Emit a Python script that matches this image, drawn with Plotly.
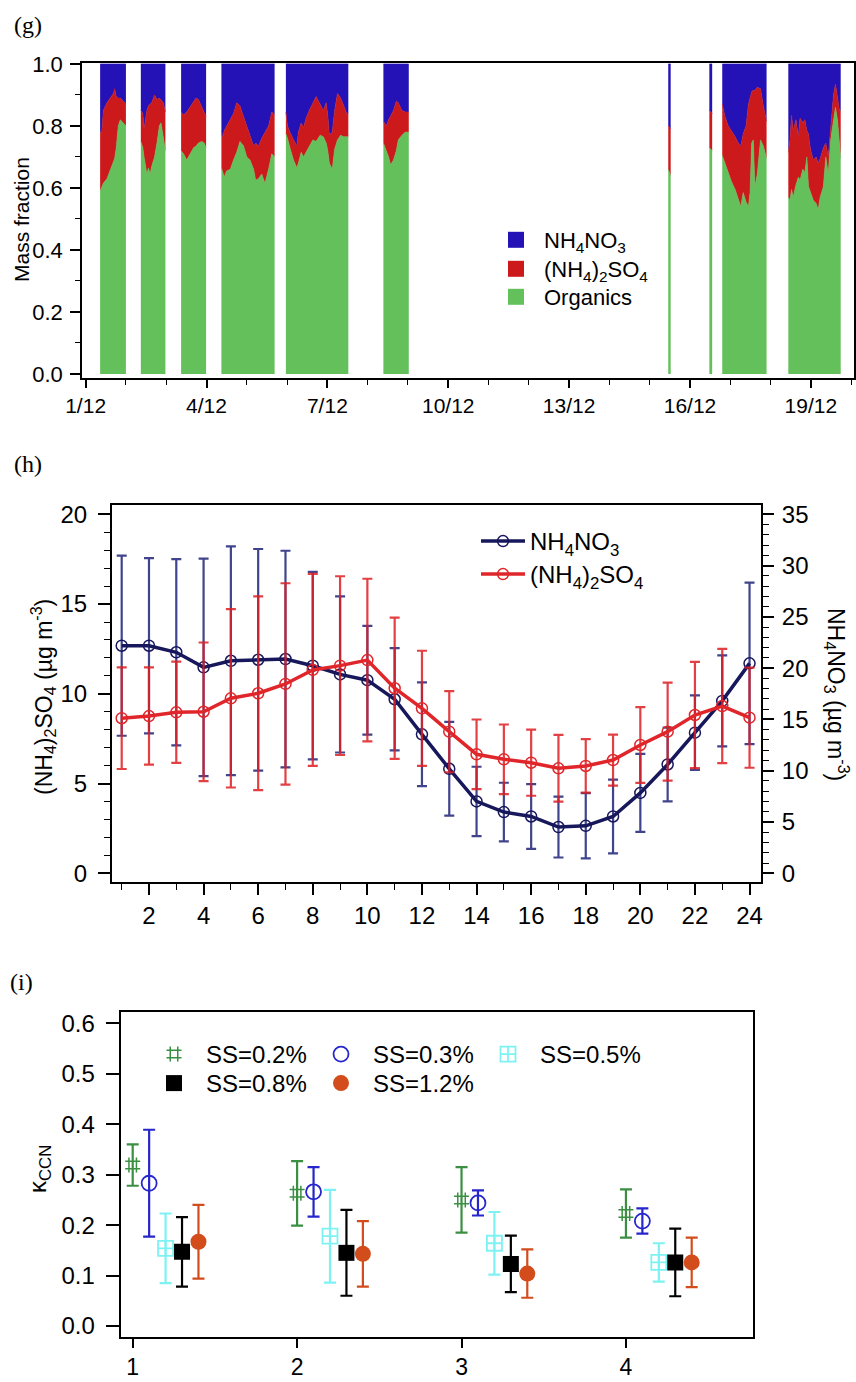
import plotly.graph_objects as go

# ---------------- (g) bulk mass fractions, 1-20 December ----------------
# sampling periods separated by None; day-of-month as decimal days
g_day = [1.36, 1.40, 1.44, 1.53, 1.61, 1.69, 1.72, 1.76, 1.81, 1.86, 1.90, 1.94, 2.00, None,
         2.37, 2.42, 2.45, 2.48, 2.52, 2.56, 2.60, 2.64, 2.71, 2.77, 2.83, 2.87, 2.93, 2.98, None,
         3.37, 3.43, 3.51, 3.59, 3.68, 3.74, 3.80, 3.88, 3.94, 3.99, None,
         4.37, 4.40, 4.44, 4.50, 4.59, 4.67, 4.75, 4.83, 4.92, 5.00, 5.08, 5.17, 5.22, 5.29, 5.37,
         5.45, 5.54, 5.62, 5.69, None,
         5.97, 6.01, 6.07, 6.16, 6.24, 6.28, 6.35, 6.41, 6.47, 6.55, 6.64, 6.72, 6.82, 6.90, 6.97,
         7.01, 7.05, 7.12, 7.18, 7.25, 7.33, 7.40, 7.48, 7.52, None,
         8.39, 8.46, 8.52, 8.57, 8.64, 8.71, 8.76, 8.85, 8.93, 9.02, None,
         15.46, 15.52, None,
         16.48, 16.55, None,
         16.80, 16.87, 16.95, 17.03, 17.12, 17.20, 17.26, 17.32, 17.39, 17.45, 17.49, 17.53, 17.57,
         17.61, 17.67, 17.75, 17.82, 17.90, None,
         18.44, 18.48, 18.52, 18.56, 18.63, 18.69, 18.73, 18.80, 18.85, 18.90, 18.94, 18.99, 19.06,
         19.13, 19.18, 19.23, 19.31, 19.37, 19.43, 19.49, 19.56, 19.61, 19.66, 19.71, 19.74]
# organics mass fraction
g_org = [0.59, 0.60, 0.615, 0.63, 0.66, 0.69, 0.695, 0.73, 0.80, 0.82, 0.815, 0.81, 0.80, None,
         0.75, 0.73, 0.70, 0.68, 0.645, 0.665, 0.645, 0.67, 0.70, 0.745, 0.80, 0.81, 0.755, 0.72, None,
         0.72, 0.71, 0.69, 0.71, 0.73, 0.735, 0.745, 0.75, 0.745, 0.73, None,
         0.665, 0.65, 0.635, 0.655, 0.66, 0.69, 0.715, 0.75, 0.735, 0.70, 0.69, 0.66, 0.625, 0.63,
         0.645, 0.615, 0.66, 0.71, 0.70, None,
         0.775, 0.76, 0.73, 0.69, 0.665, 0.68, 0.715, 0.70, 0.715, 0.735, 0.755, 0.75, 0.77, 0.765,
         0.745, 0.72, 0.68, 0.66, 0.725, 0.755, 0.77, 0.765, 0.765, 0.765, None,
         0.745, 0.72, 0.70, 0.675, 0.69, 0.72, 0.755, 0.77, 0.78, 0.78, None,
         0.66, 0.64, None,
         0.73, 0.72, None,
         0.705, 0.68, 0.645, 0.62, 0.595, 0.56, 0.54, 0.585, 0.555, 0.54, 0.585, 0.745, 0.755,
         0.605, 0.645, 0.755, 0.735, 0.695, None,
         0.57, 0.56, 0.595, 0.57, 0.61, 0.635, 0.625, 0.66, 0.65, 0.70, 0.605, 0.585, 0.56, 0.55,
         0.53, 0.57, 0.605, 0.70, 0.645, 0.755, 0.82, 0.86, 0.82, 0.745, 0.695]
# organics + (NH4)2SO4 cumulative mass fraction (remainder is NH4NO3)
g_org_so4 = [0.78, 0.78, 0.85, 0.875, 0.89, 0.905, 0.92, 0.895, 0.89, 0.89, 0.885, 0.88, 0.87, None,
             0.85, 0.84, 0.79, 0.82, 0.85, 0.865, 0.87, 0.875, 0.90, 0.885, 0.89, 0.885, 0.875, 0.845, None,
             0.845, 0.835, 0.845, 0.86, 0.875, 0.89, 0.885, 0.86, 0.84, 0.83, None,
             0.785, 0.76, 0.785, 0.80, 0.82, 0.84, 0.875, 0.865, 0.83, 0.80, 0.775, 0.735, 0.745,
             0.735, 0.76, 0.78, 0.80, 0.845, 0.835, None,
             0.845, 0.80, 0.78, 0.755, 0.735, 0.78, 0.81, 0.795, 0.825, 0.85, 0.875, 0.895, 0.87,
             0.85, 0.875, 0.835, 0.77, 0.78, 0.85, 0.905, 0.89, 0.865, 0.84, 0.84, None,
             0.815, 0.80, 0.82, 0.835, 0.85, 0.88, 0.875, 0.85, 0.845, 0.845, None,
             0.80, 0.79, None,
             0.85, 0.84, None,
             0.87, 0.83, 0.80, 0.785, 0.765, 0.745, 0.735, 0.775, 0.80, 0.87, 0.895, 0.91, 0.915,
             0.915, 0.925, 0.92, 0.865, 0.815, None,
             0.715, 0.755, 0.835, 0.785, 0.82, 0.765, 0.825, 0.81, 0.82, 0.785, 0.775, 0.725, 0.69,
             0.70, 0.68, 0.695, 0.73, 0.745, 0.70, 0.785, 0.90, 0.935, 0.895, 0.85, 0.85]
g_tick_days = [1, 4, 7, 10, 13, 16, 19]
g_tick_text = ["1/12", "4/12", "7/12", "10/12", "13/12", "16/12", "19/12"]

# ---------------- (h) diurnal variation ----------------
hour = list(range(1, 25))
so4_mean = [8.64, 8.76, 8.97, 9.00, 9.75, 10.03, 10.55, 11.33, 11.57, 11.88, 10.31, 9.19,
            7.89, 6.63, 6.35, 6.16, 5.85, 5.98, 6.31, 7.15, 7.89, 8.82, 9.32, 8.67]
so4_sd = [2.83, 2.71, 2.82, 3.86, 4.97, 5.40, 5.61, 5.35, 4.98, 4.53, 3.93, 3.21,
          2.26, 1.94, 1.94, 1.84, 1.86, 1.49, 1.42, 2.11, 2.73, 2.96, 3.18, 2.79]
no3_mean = [22.19, 22.19, 21.55, 20.08, 20.72, 20.82, 20.89, 20.24, 19.39, 18.83, 16.97, 13.55,
            10.19, 7.01, 5.97, 5.54, 4.51, 4.63, 5.54, 7.84, 10.61, 13.71, 16.81, 20.47]
no3_sd = [8.78, 8.54, 9.08, 10.60, 11.15, 10.80, 10.56, 9.14, 7.61, 5.30, 4.98, 5.06,
          4.57, 3.38, 2.86, 3.15, 2.97, 3.18, 3.59, 3.80, 3.60, 3.63, 4.43, 7.88]

# ---------------- (i) kappa_CCN by case and supersaturation ----------------
case = [1, 2, 3, 4]
ss_labels = ["SS=0.2%", "SS=0.3%", "SS=0.5%", "SS=0.8%", "SS=1.2%"]
k_ss02 = [0.319, 0.263, 0.250, 0.223]
k_ss02_sd = [0.041, 0.064, 0.065, 0.048]
k_ss03 = [0.283, 0.266, 0.244, 0.208]
k_ss03_sd = [0.106, 0.049, 0.025, 0.025]
k_ss05 = [0.154, 0.178, 0.164, 0.126]
k_ss05_sd = [0.069, 0.092, 0.062, 0.038]
k_ss08 = [0.147, 0.145, 0.123, 0.126]
k_ss08_sd = [0.069, 0.085, 0.056, 0.067]
k_ss12 = [0.167, 0.143, 0.104, 0.126]
k_ss12_sd = [0.073, 0.065, 0.048, 0.049]

# ---------------- styling ----------------
W, H = 856, 1382
SANS = "Liberation Sans, Arial, Helvetica, sans-serif"
SERIF = "Liberation Serif, Times New Roman, serif"
C_NO3, C_SO4, C_ORG = "#2412b6", "#cc1a1c", "#63c05b"
C_NAVY, C_RED = "#17175c", "#e0262a"
NAME_NO3 = "NH<sub>4</sub>NO<sub>3</sub>"
NAME_SO4 = "(NH<sub>4</sub>)<sub>2</sub>SO<sub>4</sub>"


def px_x(px):
    return px / W


def px_y(py):
    return 1 - py / H


def split_runs(*cols):
    runs, cur = [], [[] for _ in cols]
    for vals in zip(*cols):
        if vals[0] is None:
            runs.append(cur)
            cur = [[] for _ in cols]
        else:
            for c, v in zip(cur, vals):
                c.append(v)
    runs.append(cur)
    return runs


fig = go.Figure()

# (g) stacked mass fractions, one stack per sampling period
for k, (t, org, cum) in enumerate(split_runs(g_day, g_org, g_org_so4)):
    so4 = [c - o for c, o in zip(cum, org)]
    no3 = [1 - c for c in cum]
    for vals, col in ((org, C_ORG), (so4, C_SO4), (no3, C_NO3)):
        fig.add_trace(go.Scatter(
            x=t, y=vals, stackgroup=f"period{k}", mode="lines",
            line=dict(width=0.6, color=col), fillcolor=col,
            showlegend=False, hoverinfo="skip", xaxis="x", yaxis="y"))

# legend keys for (g), one legend box per entry so rows can be spaced freely
for name, col, lg in ((NAME_NO3, C_NO3, "legend"),
                      (NAME_SO4, C_SO4, "legend5"),
                      ("Organics", C_ORG, "legend6")):
    fig.add_trace(go.Scatter(
        x=[None], y=[None], mode="markers", name=name,
        marker=dict(symbol="square", size=17, color=col),
        legend=lg, xaxis="x", yaxis="y"))

# (h) diurnal cycles, NH4NO3 on right axis, (NH4)2SO4 on left axis
fig.add_trace(go.Scatter(
    x=hour, y=no3_mean, name=NAME_NO3, mode="lines+markers",
    line=dict(color=C_NAVY, width=3.5),
    marker=dict(symbol="circle-open", size=11, line=dict(width=1.5, color=C_NAVY)),
    error_y=dict(type="data", array=no3_sd, visible=True, color="rgba(30,35,120,0.85)",
                 thickness=2.2, width=5),
    legend="legend2", xaxis="x2", yaxis="y2"))
fig.add_trace(go.Scatter(
    x=hour, y=so4_mean, name=NAME_SO4, mode="lines+markers",
    line=dict(color=C_RED, width=3.5),
    marker=dict(symbol="circle-open", size=11, line=dict(width=1.5, color=C_RED)),
    error_y=dict(type="data", array=so4_sd, visible=True, color="rgba(222,30,34,0.85)",
                 thickness=2.2, width=5),
    legend="legend7", xaxis="x2", yaxis="y3"))

# (i) kappa values with offsets inside each case
i_series = [
    (k_ss02, k_ss02_sd, 0.0, dict(symbol="hash-open", size=15, color="#3b8f42",
                                  line=dict(width=1.5, color="#3b8f42")), "#3b8f42", "legend3"),
    (k_ss03, k_ss03_sd, 0.1, dict(symbol="circle-open", size=15, color="#2626cc",
                                  line=dict(width=1.8, color="#2626cc")), "#2626cc", "legend3"),
    (k_ss05, k_ss05_sd, 0.2, dict(symbol="square-cross-open", size=15, color="#7ef2f2",
                                  line=dict(width=1.8, color="#7ef2f2")), "#7ef2f2", "legend3"),
    (k_ss08, k_ss08_sd, 0.3, dict(symbol="square", size=16, color="#000000"), "#000000", "legend4"),
    (k_ss12, k_ss12_sd, 0.4, dict(symbol="circle", size=16, color="#d24c1c"), "#d24c1c", "legend4"),
]
for (mean, sd, off, mk, col, lg), label in zip(i_series, ss_labels):
    fig.add_trace(go.Scatter(
        x=[c + off for c in case], y=mean, mode="markers", name="\u2002" + label,
        marker=mk,
        error_y=dict(type="data", array=sd, visible=True, color=col, thickness=2.2, width=6),
        legend=lg, xaxis="x3", yaxis="y4"))

axis_common = dict(showgrid=False, zeroline=False, showline=True, linecolor="black",
                   ticks="outside", tickcolor="black", automargin=False)


def minor(dtick, length):
    return dict(dtick=dtick, tick0=0, ticklen=length, tickwidth=1, ticks="outside",
                tickcolor="black", showgrid=False)


def legend_box(x, y, size, **kw):
    d = dict(x=px_x(x), y=px_y(y), xanchor="left", yanchor="top",
             font=dict(size=size), bgcolor="rgba(0,0,0,0)")
    d.update(kw)
    return d


fig.update_layout(
    width=W, height=H, margin=dict(l=0, r=0, t=0, b=0, autoexpand=False),
    paper_bgcolor="white", plot_bgcolor="white",
    font=dict(family=SANS, color="black"),
    # (g)
    xaxis=dict(axis_common, domain=[px_x(82), px_x(854)], range=[0.91, 20.07], anchor="y",
               tickvals=g_tick_days, ticktext=g_tick_text, ticklen=8, tickwidth=1.5,
               linewidth=1.5, mirror=True, tickfont=dict(size=21), minor=minor(1, 5)),
    yaxis=dict(axis_common, domain=[px_y(378), px_y(63)], range=[-0.013, 1.003], anchor="x",
               dtick=0.2, tick0=0, tickformat=".1f", ticklen=10, tickwidth=1.5, linewidth=1.5,
               mirror=True, tickfont=dict(size=22), ticklabelstandoff=3, minor=minor(0.1, 5)),
    # (h)
    xaxis2=dict(axis_common, domain=[px_x(112), px_x(761)], range=[0.645, 24.42], anchor="y2",
                tickvals=list(range(2, 25, 2)), ticklen=11, tickwidth=1.5, linewidth=2,
                mirror=True, tickfont=dict(size=24), minor=minor(1, 6)),
    yaxis2=dict(axis_common, domain=[px_y(882), px_y(505)], range=[-0.849, 35.91], anchor="x2",
                side="right", dtick=5, tick0=0, ticklen=11, tickwidth=1.5, linewidth=2,
                tickfont=dict(size=24), ticklabelstandoff=3, minor=minor(1, 6)),
    yaxis3=dict(axis_common, overlaying="y2", side="left", range=[-0.485, 20.52], anchor="x2",
                dtick=5, tick0=0, ticklen=12, tickwidth=1.5, linewidth=2,
                tickfont=dict(size=24), ticklabelstandoff=6, minor=minor(1, 6)),
    # (i)
    xaxis3=dict(axis_common, domain=[px_x(120.7), px_x(752.7)], range=[0.927, 4.771],
                anchor="y4", tickvals=case, ticklen=9, tickwidth=1.5, linewidth=2,
                mirror=True, tickfont=dict(size=23), ticklabelstandoff=0),
    yaxis4=dict(axis_common, domain=[px_y(1336.7), px_y(1011.7)], range=[-0.0212, 0.623],
                anchor="x3", dtick=0.1, tick0=0, tickformat=".1f", ticklen=13, tickwidth=1.5,
                linewidth=2, mirror=True, tickfont=dict(size=24), ticklabelstandoff=6),
    # (g) legend rows
    legend=legend_box(488, 219, 22, itemwidth=46),
    legend5=legend_box(488, 248, 22, itemwidth=46),
    legend6=legend_box(488, 276, 22, itemwidth=46),
    # (h) legend rows
    legend2=legend_box(476, 519, 24, itemwidth=44),
    legend7=legend_box(476, 552, 24, itemwidth=44),
    # (i) legend rows
    legend3=legend_box(154, 1032, 24, orientation="h", entrywidth=122),
    legend4=legend_box(154, 1061, 24, orientation="h", entrywidth=122),
)

annotations = [
    dict(text="(g)", x=px_x(12), y=px_y(25), font=dict(family=SERIF, size=24)),
    dict(text="(h)", x=px_x(12), y=px_y(464), font=dict(family=SERIF, size=24)),
    dict(text="(i)", x=px_x(8), y=px_y(982), font=dict(family=SERIF, size=24)),
]
for a in annotations:
    a.update(xref="paper", yref="paper", xanchor="left", yanchor="middle", showarrow=False)
    fig.add_annotation(**a)

titles = [
    dict(text="Mass fraction", x=px_x(21), y=px_y(220), textangle=-90, font=dict(size=21)),
    dict(text=NAME_SO4 + " (µg m<sup>-3</sup>)",
         x=px_x(43), y=px_y(697), textangle=-90, font=dict(size=23)),
    dict(text=NAME_NO3 + " (µg m<sup>-3</sup>)",
         x=px_x(837), y=px_y(694), textangle=90, font=dict(size=23)),
    dict(text="κ<sub>CCN</sub>", x=px_x(39), y=px_y(1169), textangle=-90, font=dict(size=24)),
]
for a in titles:
    a.update(xref="paper", yref="paper", xanchor="center", yanchor="middle", showarrow=False)
    fig.add_annotation(**a)

fig.write_html("out.html")
